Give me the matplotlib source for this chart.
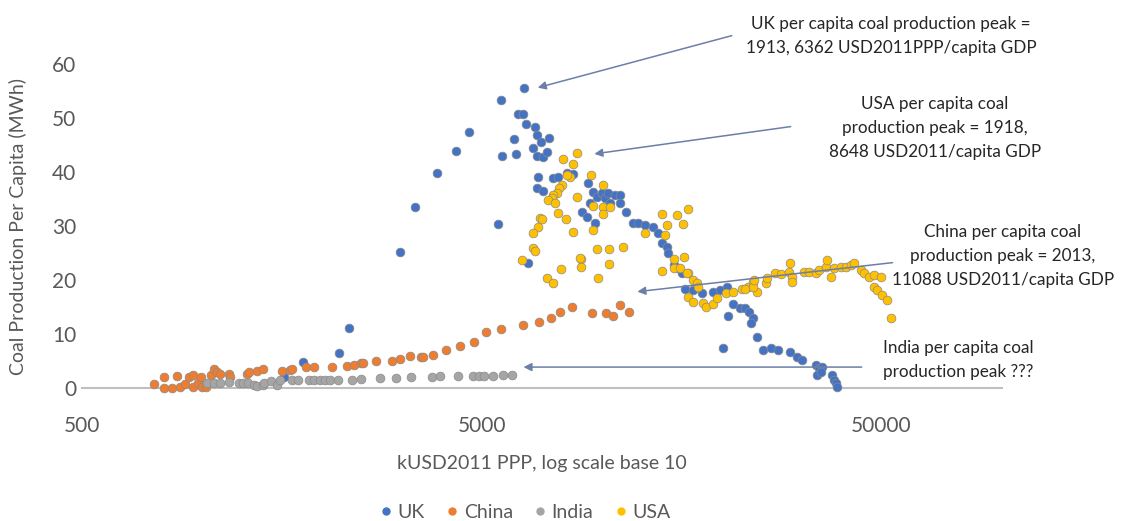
import numpy as np
import matplotlib.pyplot as plt
from matplotlib.lines import Line2D

plt.rcParams['font.family'] = ['Lato', 'DejaVu Sans']

# GDP per capita (USD2011 PPP) vs coal production per capita (MWh)
uk_gdp = [1600, 1784, 2195, 2325, 3118, 3400, 3860, 4305, 4640, 5480, 5577, 5610,
          6012, 6081, 6151, 6331, 6370, 6441, 6516, 6706, 6783, 6862, 6862, 6902,
          6862, 7021, 7100, 7100, 7269, 7353, 7525, 7745, 8158, 8447, 8891, 9148,
          9204, 9311, 9473, 9583, 9693, 9976, 10150, 10327, 10447, 10752, 11066,
          11066, 11455, 11925, 12274, 12780, 13382, 13772, 14092, 14501, 14585,
          15183, 15452, 15811, 16088, 16846, 17742, 18902, 19679, 20486, 21207,
          20606, 20100, 22080, 22727, 23387, 23797, 23659, 24352, 25207, 26396,
          27640, 29614, 30831, 31730, 34394, 34992, 35612, 34590, 35397, 37709,
          38150, 38600, 38810]
uk_coal = [2.0, 4.8, 6.5, 11.1, 25.2, 33.5, 39.8, 43.9, 47.4, 30.4, 53.3, 43.0,
           46.1, 43.3, 50.7, 50.7, 55.6, 48.9, 23.1, 44.4, 48.3, 46.9, 43.0, 39.1,
           37.0, 45.6, 42.8, 36.5, 43.7, 46.3, 38.9, 39.1, 39.8, 39.6, 32.6, 31.7,
           38.0, 34.3, 36.3, 30.6, 35.4, 36.1, 35.2, 36.1, 34.3, 35.7, 35.7,
           34.3, 32.6, 30.6, 30.6, 30.2, 29.8, 28.7, 26.9, 26.1, 25.0,
           22.8, 22.2, 21.3, 18.3, 18.1, 17.6, 17.8, 18.1, 18.7, 15.6,
           13.3, 7.4, 14.8, 14.8, 14.1, 13.0, 12.0, 9.4, 7.0, 7.4,
           7.0, 6.7, 5.7, 5.2, 4.3, 3.7, 4.0, 2.4, 3.0, 2.4,
           1.5, 0.9, 0.2]

china_gdp = [757, 802, 802, 839, 864, 879, 905, 926, 947, 950, 975, 990, 1000,
             1021, 1051, 1069, 1090, 1107, 1166, 1170, 1293, 1305, 1369, 1418,
             1581, 1656, 1680, 1815, 1901, 2108, 2299, 2393, 2492, 2530, 2716,
             2978, 3118, 3304, 3520, 3560, 3772, 4064, 4405, 4775, 5116, 5577,
             6331, 6941, 7438, 7834, 8394, 9419, 10209, 10637, 11066, 11657]
china_coal = [0.7, 2.0, 0.0, 0.0, 2.2, 0.2, 0.7, 2.0, 2.4, 0.2, 0.9, 2.0, 0.2,
              0.2, 2.4, 3.5, 3.0, 2.6, 2.6, 2.0, 2.6, 3.0, 3.1, 3.5,
              3.1, 3.3, 3.5, 3.9, 3.9, 3.9, 4.1, 4.3, 4.6, 4.6, 5.0,
              5.0, 5.4, 5.9, 5.7, 5.8, 6.1, 7.0, 7.8, 8.5, 10.4, 10.9,
              11.7, 12.2, 13.0, 14.1, 15.0, 13.9, 13.9, 13.3, 15.4, 14.1]

india_gdp = [1027, 1069, 1107, 1166, 1235, 1263, 1300, 1346, 1369, 1418, 1426,
             1484, 1537, 1563, 1675, 1734, 1847, 1901, 1968, 2026, 2084, 2183,
             2366, 2492, 2780, 3048, 3323, 3749, 3926, 4355, 4747, 4914, 5058,
             5327, 5643, 5943]
india_coal = [0.9, 1.0, 1.0, 1.1, 1.0, 0.9, 0.9, 0.5, 0.4, 0.5, 1.0,
              1.4, 0.5, 1.5, 1.6, 1.6, 1.6, 1.6, 1.6, 1.6, 1.6, 1.6,
              1.6, 1.7, 1.9, 1.9, 2.0, 2.1, 2.2, 2.2, 2.2, 2.2, 2.2,
              2.3, 2.5, 2.5]

usa_gdp = [8641, 7970, 8447, 8298, 8158, 9364, 10035, 7924, 7788, 7700, 7525,
           7481, 7311, 7612, 8641, 9473, 10035, 10447, 10035, 7745, 8110, 8447,
           9473, 6982, 7063, 6902, 6706, 6706, 6783, 6295, 9693, 10387, 11256,
           8841, 8841, 10387, 7879, 7269, 7525, 9750, 8790, 14092, 15362, 16366,
           14501, 15902, 12780, 14339, 15100, 15995, 14092, 15183, 15630, 16366,
           16275, 16846, 17236, 17338, 16366, 16846, 17845, 18155, 18902, 19342,
           20370, 21207, 22463, 23252, 23931, 24352, 22727, 23797, 24069, 25790,
           25939, 27012, 28117, 29441, 29614, 29959, 29959, 32099, 33037, 34394,
           34992, 36429, 36640, 37495, 38150, 39700, 40874, 42070, 42802, 44563,
           45355, 46666, 48027, 50000, 48027, 48862, 50288, 51746, 52963]
usa_coal = [43.5, 42.4, 41.5, 39.1, 39.4, 39.4, 37.6, 37.6, 37.0, 36.1, 35.7,
            35.2, 34.8, 34.3, 35.4, 33.7, 33.5, 33.5, 32.2, 32.4, 31.3, 28.9,
            29.3, 31.5, 31.3, 29.8, 28.7, 25.9, 25.4, 23.7, 25.7, 25.7, 26.1,
            23.9, 22.4, 23.0, 22.0, 20.4, 19.4, 20.4, 24.1, 32.2, 32.0, 33.1,
            30.2, 30.4, 28.7, 28.3, 23.9, 24.3, 21.7, 22.2, 22.2, 21.3,
            21.3, 20.0, 19.4, 18.7, 16.9, 16.0, 15.7, 15.0, 15.6, 16.7,
            17.6, 17.8, 18.3, 18.7, 19.6, 17.8, 18.3, 18.7, 20.0, 19.4,
            20.4, 21.3, 21.1, 21.5, 23.1, 20.6, 19.6, 21.5, 21.5, 21.3,
            21.9, 22.4, 23.7, 20.6, 22.2, 22.4, 22.4, 22.8, 23.1, 21.9,
            21.3, 20.6, 20.9, 20.6, 18.7, 18.1, 17.2, 16.3, 13.0]

series = [('UK', uk_gdp, uk_coal, '#4472C4'),
          ('China', china_gdp, china_coal, '#ED7D31'),
          ('India', india_gdp, india_coal, '#A5A5A5'),
          ('USA', usa_gdp, usa_coal, '#FFC000')]

fig = plt.figure(figsize=(11.23, 5.21), dpi=100)
ax = fig.add_axes([0.073, 0.255, 0.819, 0.622])

for name, x, y, c in series:
    ax.scatter(x, y, s=40, color=c, edgecolors='#8a8a8a', linewidths=0.5,
               zorder=3, clip_on=False)

ax.set_xscale('log')
ax.set_xlim(500, 100000)
ax.set_ylim(0, 60)
ax.set_xticks([500, 5000, 50000])
ax.set_xticklabels(['500', '5000', '50000'])
ax.minorticks_off()
ax.set_yticks(range(0, 61, 10))
ax.tick_params(length=0, labelsize=15, colors='#595959')
ax.tick_params(axis='x', pad=20)
ax.tick_params(axis='y', pad=4)
for s in ['top', 'right', 'left']:
    ax.spines[s].set_visible(False)
ax.spines['bottom'].set_color('#BFBFBF')
ax.spines['bottom'].set_linewidth(1.5)

ax.set_xlabel('kUSD2011 PPP, log scale base 10', fontsize=14, color='#595959', labelpad=14)
ax.set_ylabel('Coal Production Per Capita (MWh)', fontsize=14, color='#595959', labelpad=18)

arrow_kw = dict(arrowstyle='-|>', color='#6b7fa8', lw=1.1, mutation_scale=12)
notes = [
    ('UK per capita coal production peak =\n1913, 6362 USD2011PPP/capita GDP',
     (891, 36), (6800, 55.5), (21450, 65.4)),
    ('USA per capita coal\nproduction peak = 1918,\n8648 USD2011/capita GDP',
     (935, 128), (9420, 43.3), (30130, 48.5)),
    ('China per capita coal\nproduction peak = 2013,\n11088 USD2011/capita GDP',
     (1003, 256), (12065, 17.8), (54200, 23.3)),
    ('India per capita coal\nproduction peak ???',
     (958, 360), (6260, 3.9), (45355, 3.9)),
]
for txt, (tx, ty), head, tail in notes:
    fig.text(tx / 1123, 1 - ty / 521, txt, ha='center', va='center',
             fontsize=12.3, color='#262626', linespacing=1.6)
    ax.annotate('', xy=head, xytext=tail, arrowprops=arrow_kw,
                annotation_clip=False)

handles = [Line2D([], [], marker='o', ls='', color=c, markersize=5)
           for _, _, _, c in series]
fig.legend(handles, [s[0] for s in series], loc='center', ncol=4,
           bbox_to_anchor=(0.466, 0.017), frameon=False, fontsize=14,
           labelcolor='#595959', handletextpad=0.1, columnspacing=0.9,
           handlelength=1.0)

fig.savefig('out.png', dpi=100)
